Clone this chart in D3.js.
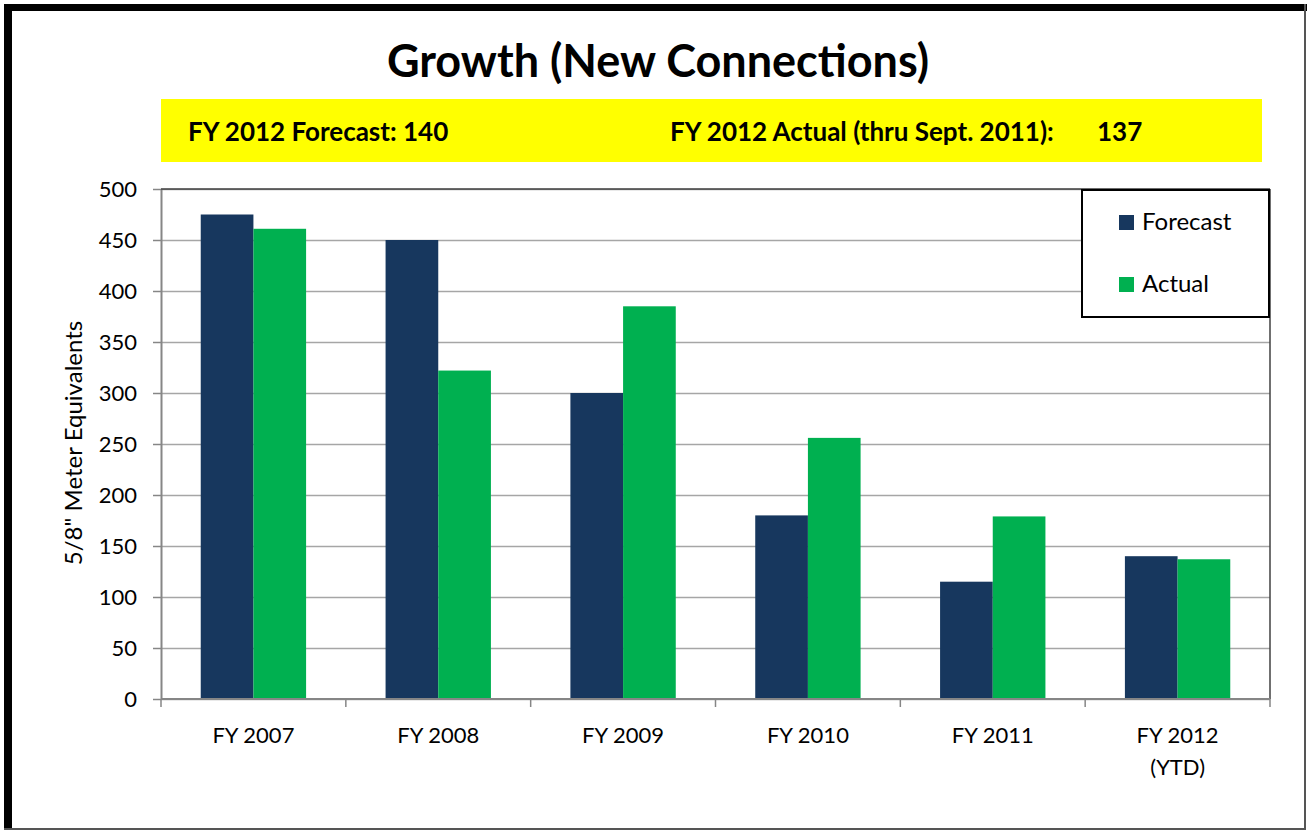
<!DOCTYPE html>
<head>
    <script src="https://d3js.org/d3.v7.min.js"></script>
    <style>
body {
  margin: 0;
  background: #fff;
  font-family: "Lato", "Open Sans", sans-serif;
}
</style>
</head>
<body>
    <svg></svg>
</body>

<script>
    // chart data
    var categories = ["FY 2007", "FY 2008", "FY 2009", "FY 2010", "FY 2011", "FY 2012\n(YTD)"];
    var seriesNames = ["Forecast", "Actual"];
    var forecast = [475, 450, 300, 180, 115, 140];
    var actual = [461, 322, 385, 256, 179, 137];
    var yTicks = [0, 50, 100, 150, 200, 250, 300, 350, 400, 450, 500];
    var bannerLeft = "FY 2012 Forecast: 140";
    var bannerRight = "FY 2012 Actual (thru Sept. 2011):";
    var bannerRightValue = "137";

    var colors = { "Forecast": "#17375e", "Actual": "#00b050" };

    var width = 1307;
    var height = 830;
    var plot = { left: 161, right: 1270, top: 189, bottom: 699 };

    var svg = d3.select('svg')
        .attr('width', width)
        .attr('height', height);

    // outer frame (thick top/left, thin right/bottom)
    svg.append('rect').attr('x', 4).attr('y', 4).attr('width', 8).attr('height', 826).attr('fill', '#000');
    svg.append('rect').attr('x', 4).attr('y', 4).attr('width', 1303).attr('height', 7).attr('fill', '#000');
    svg.append('line').attr('x1', 1305).attr('x2', 1305).attr('y1', 4).attr('y2', 830)
        .attr('stroke', '#555').attr('stroke-width', 2);
    svg.append('line').attr('x1', 4).attr('x2', 1306).attr('y1', 829).attr('y2', 829)
        .attr('stroke', '#555').attr('stroke-width', 2);

    // title
    svg.append('text')
        .attr('x', 658).attr('y', 77)
        .attr('text-anchor', 'middle')
        .style('font-size', '45px')
        .style('font-weight', 'bold')
        .text("Growth (New Connections)");

    // yellow banner
    svg.append('rect').attr('x', 161).attr('y', 99).attr('width', 1101).attr('height', 63).attr('fill', '#ffff00');
    svg.append('text').attr('x', 188).attr('y', 141)
        .style('font-size', '26px').style('font-weight', 'bold').text(bannerLeft);
    svg.append('text').attr('x', 670).attr('y', 141)
        .style('font-size', '26px').style('font-weight', 'bold').text(bannerRight);
    svg.append('text').attr('x', 1097).attr('y', 141)
        .style('font-size', '26px').style('font-weight', 'bold').text(bannerRightValue);

    // scales
    var x0 = d3.scaleBand()
        .domain(categories)
        .range([plot.left, plot.right])
        .paddingInner(0.43)
        .paddingOuter(0.215);

    var x1 = d3.scaleBand()
        .domain(seriesNames)
        .range([0, x0.bandwidth()]);

    var y = d3.scaleLinear()
        .domain([0, 500])
        .range([plot.bottom, plot.top]);

    var rows = categories.map(function (c, i) {
        return { cat: c, values: [{ key: "Forecast", value: forecast[i] }, { key: "Actual", value: actual[i] }] };
    });

    // gridlines
    var grid = svg.append('g')
        .attr('transform', 'translate(' + plot.left + ',0)')
        .call(d3.axisLeft(y).tickValues(yTicks).tickSize(-(plot.right - plot.left)).tickFormat(""));
    grid.select('.domain').remove();
    grid.selectAll('line').attr('stroke', '#a6a6a6').attr('stroke-width', 1.5);

    // y axis
    var yAxis = svg.append('g')
        .attr('transform', 'translate(' + plot.left + ',0)')
        .call(d3.axisLeft(y).tickValues(yTicks).tickSize(8).tickSizeOuter(0).tickPadding(16));
    yAxis.select('.domain').attr('stroke', '#868686').attr('stroke-width', 2);
    yAxis.selectAll('line').attr('stroke', '#868686').attr('stroke-width', 1.5);
    yAxis.selectAll('text')
        .style('font-family', 'Lato, sans-serif')
        .style('font-size', '22px')
        .attr('fill', '#000');

    // bars
    svg.append('g').selectAll('g')
        .data(rows)
        .enter().append('g')
        .attr('transform', function (d) { return 'translate(' + x0(d.cat) + ',0)'; })
        .selectAll('rect')
        .data(function (d) { return d.values; })
        .enter().append('rect')
        .attr('x', function (d) { return x1(d.key); })
        .attr('width', x1.bandwidth())
        .attr('y', function (d) { return y(d.value); })
        .attr('height', function (d) { return y(0) - y(d.value); })
        .attr('fill', function (d) { return colors[d.key]; });

    // plot border top and right
    svg.append('line').attr('x1', plot.left).attr('x2', plot.right).attr('y1', plot.top).attr('y2', plot.top)
        .attr('stroke', '#404040').attr('stroke-width', 1.5);
    svg.append('line').attr('x1', plot.right).attr('x2', plot.right).attr('y1', plot.top).attr('y2', plot.bottom)
        .attr('stroke', '#404040').attr('stroke-width', 1.5);

    // x axis: baseline, ticks on category boundaries, labels
    var step = x0.step();
    var start = plot.left;
    var boundaries = d3.range(categories.length + 1).map(function (i) { return start + i * step; });
    svg.append('line').attr('x1', plot.left).attr('x2', plot.right).attr('y1', y(0)).attr('y2', y(0))
        .attr('stroke', '#868686').attr('stroke-width', 2);
    svg.append('g').selectAll('line')
        .data(boundaries)
        .enter().append('line')
        .attr('x1', function (d) { return d; }).attr('x2', function (d) { return d; })
        .attr('y1', y(0)).attr('y2', y(0) + 8)
        .attr('stroke', '#868686').attr('stroke-width', 1.5);

    var xLabels = svg.append('g').selectAll('text')
        .data(categories)
        .enter().append('text')
        .attr('x', function (d) { return x0(d) + x0.bandwidth() / 2; })
        .attr('y', 743)
        .attr('text-anchor', 'middle')
        .style('font-size', '22px');
    xLabels.each(function (d) {
        var t = d3.select(this);
        d.split("\n").forEach(function (line, i) {
            t.append('tspan')
                .attr('x', t.attr('x'))
                .attr('dy', i === 0 ? 0 : 32)
                .text(line);
        });
    });

    // y axis title
    svg.append('text')
        .attr('transform', 'translate(82,443)rotate(-90)')
        .attr('text-anchor', 'middle')
        .style('font-size', '24px')
        .text('5/8" Meter Equivalents');

    // legend
    var legend = svg.append('g');
    legend.append('rect')
        .attr('x', 1082).attr('y', 190).attr('width', 187).attr('height', 127)
        .attr('fill', '#fff').attr('stroke', '#000').attr('stroke-width', 2);
    var items = legend.selectAll('g.item')
        .data(seriesNames)
        .enter().append('g').attr('class', 'item')
        .attr('transform', function (d, i) { return 'translate(1119,' + (215 + i * 62) + ')'; });
    items.append('rect')
        .attr('width', 15).attr('height', 15)
        .attr('fill', function (d) { return colors[d]; });
    items.append('text')
        .attr('x', 23).attr('y', 15)
        .style('font-size', '24px')
        .text(function (d) { return d; });
</script>
